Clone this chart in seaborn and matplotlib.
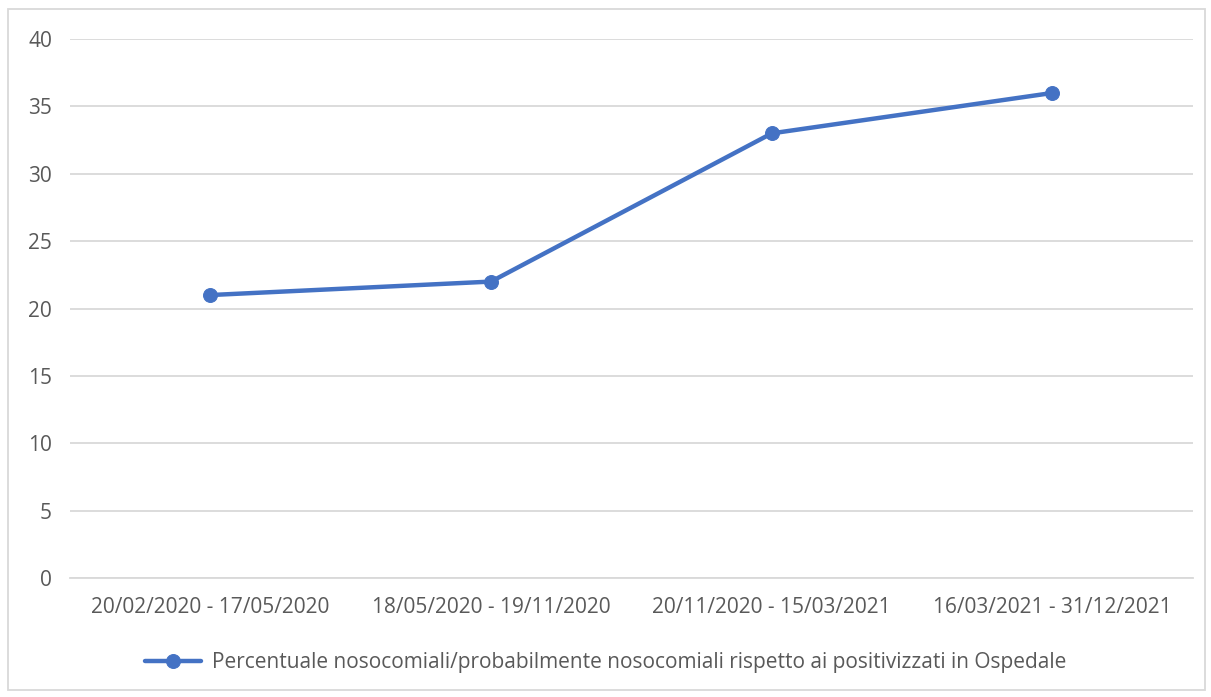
#!/usr/bin/env python3
import matplotlib
matplotlib.use('Agg')
import matplotlib.pyplot as plt
import seaborn as sns
import pandas as pd
from matplotlib.patches import Rectangle

# Data
periods = ['20/02/2020 - 17/05/2020', '18/05/2020 - 19/11/2020',
           '20/11/2020 - 15/03/2021', '16/03/2021 - 31/12/2021']
percent = [21, 22, 33, 36]
series_name = 'Percentuale nosocomiali/probabilmente nosocomiali rispetto ai positivizzati in Ospedale'
y_ticks = [0, 5, 10, 15, 20, 25, 30, 35, 40]

df = pd.DataFrame({'periodo': periods, 'valore': percent})

sns.set_theme(style='white')
plt.rcParams['font.family'] = ['Open Sans', 'DejaVu Sans']

fig = plt.figure(figsize=(12.11, 6.97), dpi=100)
ax = fig.add_axes([0.0578, 0.1707, 0.9272, 0.7733])

sns.lineplot(data=df, x='periodo', y='valore', sort=False, ax=ax,
             color='#4472C4', linewidth=3.2, marker='o', markersize=10,
             markeredgecolor='#4472C4', label=series_name)

ax.set_xlim(-0.5, 3.5)
ax.set_ylim(0, 40)
ax.set_yticks(y_ticks)
ax.set_xlabel('')
ax.set_ylabel('')
ax.grid(axis='y', color='#D9D9D9', linewidth=1.3)
ax.set_axisbelow(True)
for side in ['top', 'right', 'left']:
    ax.spines[side].set_visible(False)
ax.spines['bottom'].set_color('#D9D9D9')
ax.spines['bottom'].set_linewidth(1.3)
ax.tick_params(axis='both', length=0, labelsize=15, colors='#595959')
ax.tick_params(axis='y', pad=13)
ax.tick_params(axis='x', pad=14)

leg = ax.legend(loc='center', bbox_to_anchor=(0.5, 0.049), bbox_transform=fig.transFigure,
                frameon=False, fontsize=15, handlelength=2.7, handletextpad=0.5,
                borderaxespad=0)
for t in leg.get_texts():
    t.set_color('#595959')

# light border round the chart, as in the original
fig.patches.append(Rectangle((8 / 1211, 7 / 697), 1197 / 1211, 681 / 697,
                             transform=fig.transFigure, fill=False,
                             edgecolor='#D9D9D9', linewidth=1.3))

plt.savefig('out.png', dpi=100)
